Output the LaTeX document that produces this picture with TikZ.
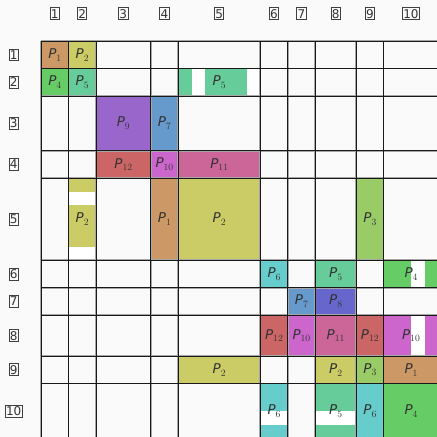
\documentclass[tikz,border=0pt]{standalone}
\usepackage{fontspec}
\newfontfamily\dvs{DejaVu Sans}
\usetikzlibrary{positioning}
\definecolor{bgpaper}{HTML}{FAFAFA}
\definecolor{ptan}{HTML}{CC9966}
\definecolor{polive}{HTML}{CCCC66}
\definecolor{plime}{HTML}{99CC66}
\definecolor{pgreen}{HTML}{66CC66}
\definecolor{pmint}{HTML}{66CC99}
\definecolor{pcyan}{HTML}{66CCCC}
\definecolor{pblue}{HTML}{6699CC}
\definecolor{pindigo}{HTML}{6666CC}
\definecolor{ppurple}{HTML}{9966CC}
\definecolor{pmagenta}{HTML}{CC66CC}
\definecolor{ppink}{HTML}{CC6699}
\definecolor{pred}{HTML}{CC6666}
\newcommand{\psub}[1]{\textit{P}\raisebox{-0.35ex}{\rmfamily\upshape\fontsize{10}{10}\selectfont #1}}

\begin{document}
\begin{tikzpicture}[
    x=0.5cm, y=-0.5cm,
    lbl/.style={font=\dvs\itshape\fontsize{14}{14}\selectfont, text=black!80, inner sep=0pt},
    idx/.style={draw=black!75, line width=0.8pt, font=\dvs\fontsize{12.5}{12.5}\selectfont,
                inner xsep=0.8pt, inner ysep=1.5pt, text=black!80},
    gridsh/.style={line width=1.8pt, black!35},
    gridln/.style={line width=0.8pt, black!90},
    gap/.style={fill=white},
  ]

  % ── Canvas ──
  \useasboundingbox (0,0) rectangle (31.9,31.9);
  \fill[bgpaper] (0,0) rectangle (31.9,31.9);
  \clip (0,0) rectangle (31.9,31.9);

  % ── Blocks ──
  \foreach \xa/\ya/\xb/\yb/\col in {
      3/3/5/5/ptan, 5/3/7/5/polive,
      3/5/5/7/pgreen, 5/5/7/7/pmint, 13/5/19/7/pmint,
      7/7/11/11/ppurple, 11/7/13/11/pblue,
      7/11/11/13/pred, 11/11/13/13/pmagenta, 13/11/19/13/ppink,
      5/13/7/19/polive, 11/13/13/19/ptan, 13/13/19/19/polive, 26/13/28/19/plime,
      19/19/21/21/pcyan, 23/19/26/21/pmint, 28/19/32/21/pgreen,
      21/21/23/23/pblue, 23/21/26/23/pindigo,
      19/23/21/26/pred, 21/23/23/26/pmagenta, 23/23/26/26/ppink, 26/23/28/26/pred, 28/23/32/26/pmagenta,
      13/26/19/28/polive, 23/26/26/28/polive, 26/26/28/28/plime, 28/26/32/28/ptan,
      19/28/21/32/pcyan, 23/28/26/32/pmint, 26/28/28/32/pcyan, 28/28/32/32/pgreen}
    \fill[\col] (\xa,\ya) rectangle (\xb,\yb);

  % empty stripes
  \foreach \xa/\ya/\xb/\yb in {14/5/15/7, 18/5/19/7, 5/14/7/15, 5/18/7/19,
      30/19/31/21, 30/23/31/26, 19/30/21/31, 23/30/26/31}
    \fill[gap] (\xa,\ya) rectangle (\xb,\yb);

  % ── Grid ──
  \foreach \b in {3,5,7,11,13,19,21,23,26,28,32} {
    \draw[gridsh] (\b,3) -- (\b,32);
    \draw[gridsh] (3,\b) -- (32,\b);
  }
  \foreach \b in {3,5,7,11,13,19,21,23,26,28,32} {
    \draw[gridln] (\b,3) -- (\b,32);
    \draw[gridln] (3,\b) -- (32,\b);
  }

  % ── Block labels ──
  \foreach \cx/\cy/\k [count=\i] in {
      4/4/1, 6/4/2, 4/6/4, 6/6/5, 16/6/5,
      9/9/9, 12/9/7, 9/12/12, 12/12/10, 16/12/11,
      6/16/2, 12/16/1, 16/16/2, 27/16/3,
      20/20/6, 24.5/20/5, 30/20/4, 22/22/7, 24.5/22/8,
      20/24.5/12, 22/24.5/10, 24.5/24.5/11, 27/24.5/12, 30/24.5/10,
      16/27/2, 24.5/27/2, 27/27/3, 30/27/1,
      20/30/6, 24.5/30/5, 27/30/6, 30/30/4}
    \node[lbl] (p\i) at (\cx,\cy) {\psub{\k}};

  % ── Row / column indices ──
  \foreach \k/\c in {1/4, 2/6, 3/9, 4/12, 5/16, 6/20, 7/22, 8/24.5, 9/27, 10/30} {
    \node[idx] (col\k) at (\c,1) {\k};
    \node[idx] (row\k) at (1,\c) {\k};
  }

\end{tikzpicture}
\end{document}
